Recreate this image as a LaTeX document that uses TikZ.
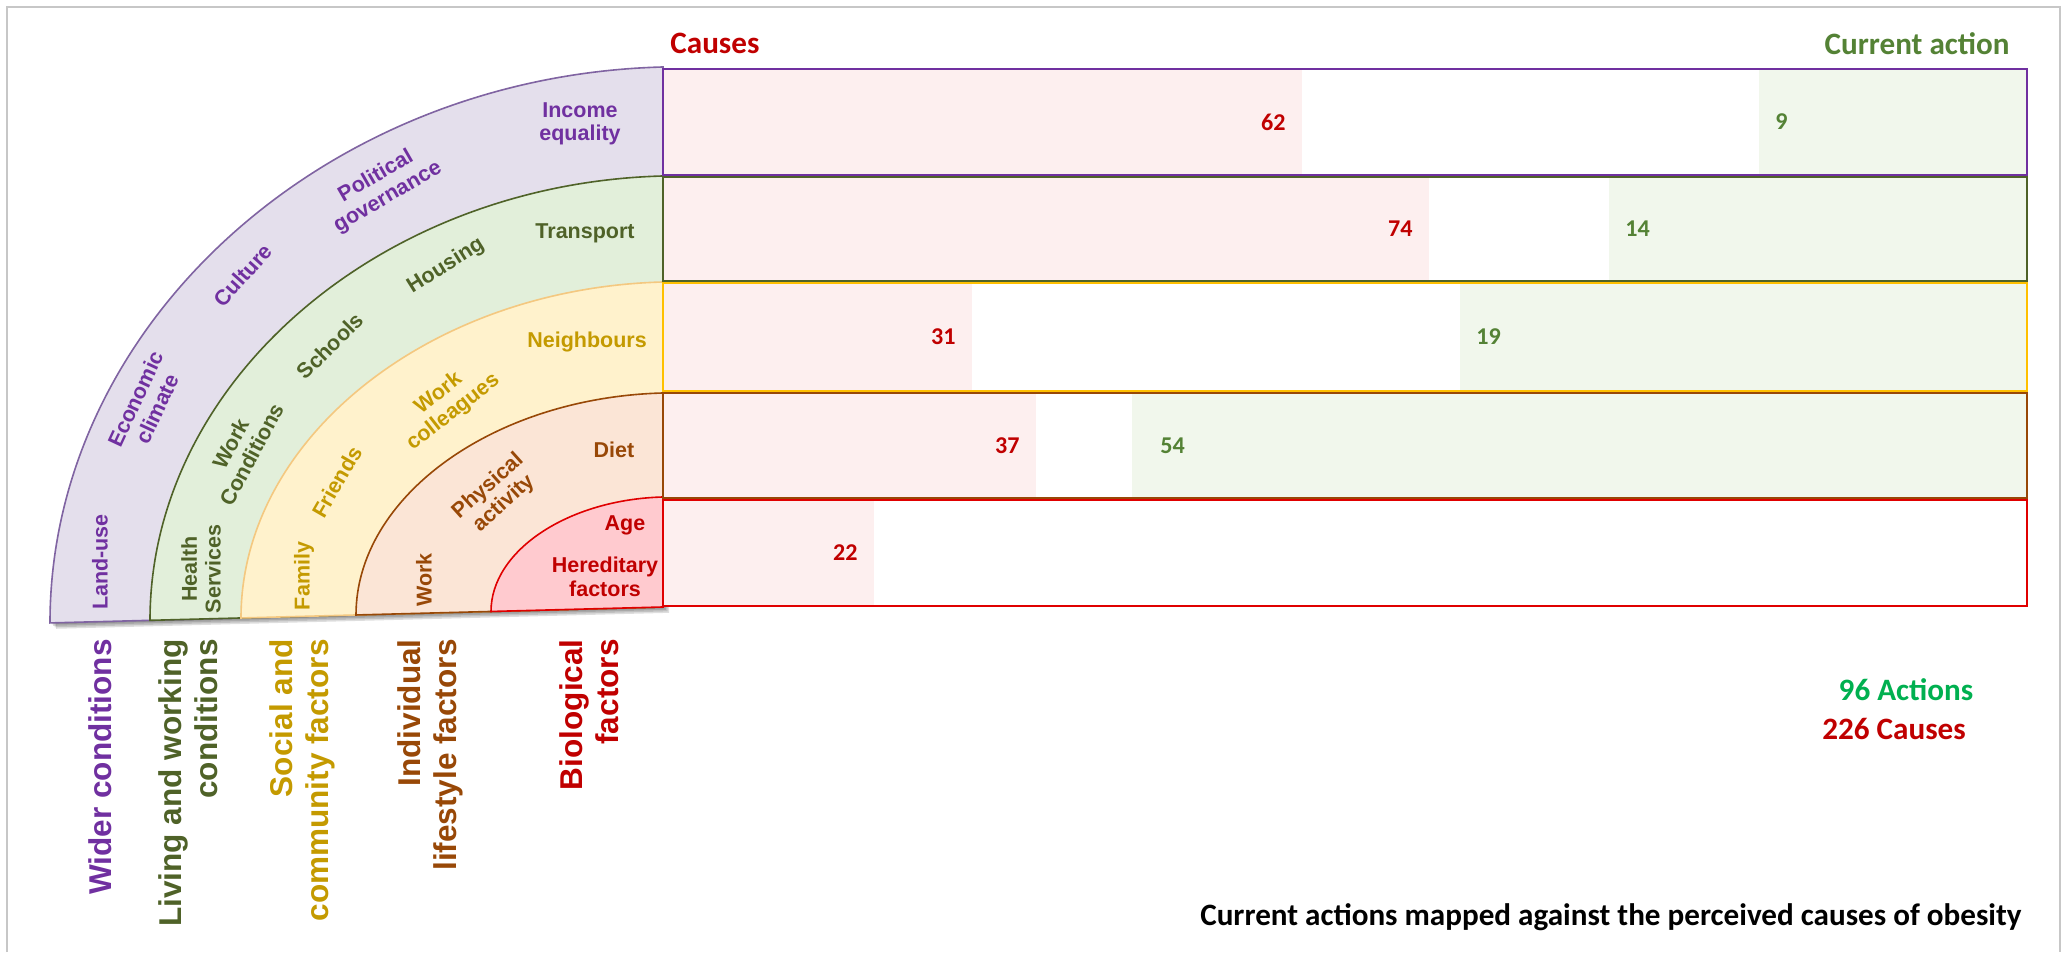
\documentclass[tikz,border=0pt]{standalone}
\usepackage{fontspec}
\setmainfont{Liberation Sans}
\newfontfamily\calibri{Carlito}

% Màu cho các tầng
\definecolor{tPurple}{HTML}{7030A0}
\definecolor{fPurple}{HTML}{E4DFEC}
\definecolor{lPurple}{HTML}{8064A2}
\definecolor{tGreen}{HTML}{4F6228}
\definecolor{fGreen}{HTML}{E2EFDA}
\definecolor{tGold}{HTML}{C49A00}
\definecolor{fGold}{HTML}{FFF2CC}
\definecolor{lGold}{HTML}{F4C880}
\definecolor{bGold}{HTML}{FFC000}
\definecolor{tBrown}{HTML}{984807}
\definecolor{fBrown}{HTML}{FBE5D6}
\definecolor{tRed}{HTML}{C00000}
\definecolor{fRed}{HTML}{FFCACF}
\definecolor{lRed}{HTML}{E00000}
\definecolor{causeFill}{HTML}{FDEFEF}
\definecolor{actFill}{HTML}{F1F7EC}
\definecolor{actGreen}{HTML}{548235}
\definecolor{sumGreen}{HTML}{00B050}

\begin{document}
\begin{tikzpicture}[x=1.75cm, y=1.75cm,
    ring/.style={line width=0.8pt},
    lab/.style={font=\fontsize{10.7}{11.8}\selectfont\bfseries, align=center, inner sep=0pt},
    grp/.style={font=\fontsize{15.7}{17.9}\selectfont\bfseries, align=right, rotate=90, anchor=east, inner sep=0pt},
    num/.style={font=\calibri\fontsize{12}{14}\selectfont\bfseries, inner sep=0pt},
    head/.style={font=\calibri\fontsize{15.5}{18}\selectfont\bfseries, inner sep=0pt}]
    \useasboundingbox (0,0) rectangle (20.69,9.52);

    % 1. Khung xám quanh hình
    \draw[black!22, line width=1pt] (0.07,0) -- (0.07,9.45) -- (20.60,9.45) -- (20.60,0);

    % 2. Các tầng hình quạt (vẽ từ ngoài vào trong)
    \begin{scope}[shift={(6.63,3.45)}, yslant=0.026]
        \foreach \s in {0.015, 0.03, 0.045, 0.06} % bóng mờ phía dưới
            \fill[black, opacity=0.13] (\s,-\s) -- ++(-6.13,0) arc[start angle=180, end angle=90, x radius=6.13, y radius=5.40] -- cycle;
        \foreach \rx/\ry/\fc/\dc in {6.13/5.40/fPurple/lPurple, 5.13/4.31/fGreen/tGreen, 4.22/3.25/fGold/lGold, 3.07/2.14/fBrown/tBrown, 1.72/1.10/fRed/lRed}
            \filldraw[fill=\fc, draw=\dc, ring] (0,0) -- (-\rx,0) arc[start angle=180, end angle=90, x radius=\rx, y radius=\ry] -- cycle;
    \end{scope}

    % 3. Nhãn trong các tầng
    \node[lab, text=tPurple, rotate=90] (landuse) at (1.00,3.90) {Land-use};
    \node[lab, text=tPurple, rotate=65] (economic) at (1.46,5.48) {Economic\\climate};
    \node[lab, text=tPurple, rotate=48] (culture) at (2.43,6.77) {Culture};
    \node[lab, text=tPurple, rotate=30] (political) at (3.82,7.65) {Political\\governance};
    \node[lab, text=tPurple] (income) at (5.80,8.28) {Income\\equality};

    \node[lab, text=tGreen, rotate=90] (health) at (2.01,3.83) {Health\\Services};
    \node[lab, text=tGreen, rotate=62] (workcond) at (2.41,5.03) {Work\\Conditions};
    \node[lab, text=tGreen, rotate=45] (schools) at (3.30,6.06) {Schools};
    \node[lab, text=tGreen, rotate=32] (housing) at (4.46,6.86) {Housing};
    \node[lab, text=tGreen] (transport) at (5.85,7.19) {Transport};

    \node[lab, text=tGold, rotate=90] (family) at (3.04,3.76) {Family};
    \node[lab, text=tGold, rotate=60] (friends) at (3.37,4.70) {Friends};
    \node[lab, text=tGold, rotate=38] (colleagues) at (4.46,5.49) {Work\\colleagues};
    \node[lab, text=tGold] (neighbours) at (5.87,6.10) {Neighbours};

    \node[lab, text=tBrown, rotate=90] (work) at (4.24,3.72) {Work};
    \node[lab, text=tBrown, rotate=42] (physical) at (4.96,4.57) {Physical\\activity};
    \node[lab, text=tBrown] (diet) at (6.14,5.02) {Diet};

    \node[lab, text=tRed] (age) at (6.25,4.27) {Age};
    \node[lab, text=tRed] (hereditary) at (6.05,3.75) {Hereditary\\factors};

    % 4. Tên các nhóm (chữ dọc bên dưới)
    \node[grp, text=tPurple] (wider) at (1.00,3.13) {Wider conditions};
    \node[grp, text=tGreen] (living) at (1.88,3.13) {Living and working\\conditions};
    \node[grp, text=tGold] (social) at (3.02,3.13) {Social and\\community factors};
    \node[grp, text=tBrown] (individual) at (4.30,3.13) {Individual\\lifestyle factors};
    \node[grp, text=tRed] (biological) at (5.89,3.13) {Biological\\factors};

    % 5. Các thanh: nguyên nhân (hồng, trái) và hành động (xanh, phải)
    \foreach \yt/\yb/\ce/\as/\bc in {8.84/7.76/13.02/17.59/tPurple, 7.76/6.70/14.29/16.09/tGreen, 6.70/5.60/9.72/14.60/bGold, 5.60/4.53/10.36/11.32/tBrown, 4.53/3.45/8.74/20.27/lRed} {
        \fill[causeFill] (6.63,\yb) rectangle (\ce,\yt);
        \fill[actFill] (\as,\yb) rectangle (20.27,\yt);
        \draw[\bc, line width=1pt] (6.63,{\yb+0.012}) rectangle (20.27,{\yt-0.012});
    }

    % Số liệu nguyên nhân
    \node[num, text=tRed, anchor=east] (c62) at (12.86,8.30) {62};
    \node[num, text=tRed, anchor=east] (c74) at (14.13,7.23) {74};
    \node[num, text=tRed, anchor=east] (c31) at (9.56,6.15) {31};
    \node[num, text=tRed, anchor=east] (c37) at (10.20,5.065) {37};
    \node[num, text=tRed, anchor=east] (c22) at (8.58,3.99) {22};
    % Số liệu hành động
    \node[num, text=actGreen, anchor=west] (a9) at (17.75,8.30) {9};
    \node[num, text=actGreen, anchor=west] (a14) at (16.25,7.23) {14};
    \node[num, text=actGreen, anchor=west] (a19) at (14.76,6.15) {19};
    \node[num, text=actGreen, anchor=west] (a54) at (11.60,5.065) {54};

    % 6. Tiêu đề và tổng
    \node[head, text=tRed, anchor=west] (causes) at (6.70,9.085) {Causes};
    \node[head, text=actGreen, anchor=east] (current) at (20.10,9.085) {Current action};
    \node[head, text=sumGreen] (actions) at (19.06,2.62) {96 Actions};
    \node[head, text=tRed] (totalcauses) at (18.94,2.23) {226 Causes};
    \node[head, text=black, anchor=east] (caption) at (20.22,0.35) {Current actions mapped against the perceived causes of obesity};
\end{tikzpicture}
\end{document}
